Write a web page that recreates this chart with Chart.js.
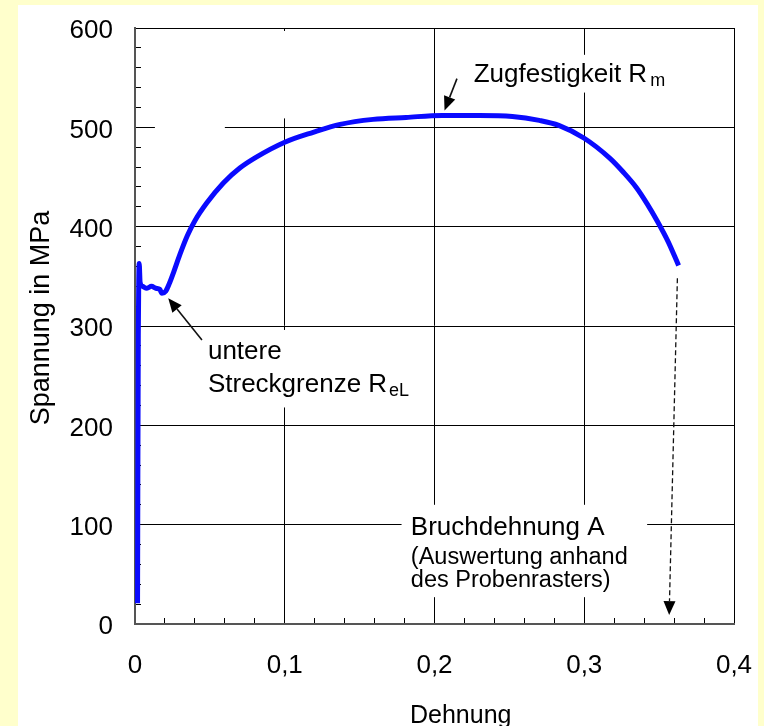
<!DOCTYPE html>
<html>
<head>
<meta charset="utf-8">
<script src="https://cdn.jsdelivr.net/npm/chart.js@4"></script>
<style>
  html, body { margin: 0; padding: 0; background: #FFFFCC; }
  canvas { display: block; }
</style>
</head>
<body>
<canvas id="myChart" width="764" height="726"></canvas>
<script>
// Dehnung (strain) und Spannung in MPa (stress)
var strain = [0.0017, 0.0019, 0.0022, 0.0025, 0.0028, 0.0034, 0.005, 0.008, 0.011, 0.014,
              0.0165, 0.018, 0.0205, 0.023, 0.026, 0.030, 0.035, 0.040, 0.048, 0.059,
              0.070, 0.081, 0.100, 0.119, 0.137, 0.159, 0.181, 0.205, 0.230, 0.252,
              0.270, 0.283, 0.300, 0.317, 0.326, 0.335, 0.342, 0.349, 0.356, 0.3630];
var stress = [21, 150, 290, 345, 363, 344, 340, 338, 340, 338,
              337, 333, 335, 343, 355, 372, 391, 406, 424, 444,
              459, 470, 485, 495, 503, 508, 510, 512, 512, 511,
              507, 502, 489, 469, 455, 439, 423, 405, 385, 361];

var xTicks = [0, 0.1, 0.2, 0.3, 0.4];
var yTicks = [0, 100, 200, 300, 400, 500, 600];

var FONT = '"Liberation Sans", Arial, sans-serif';

// white boxes behind the labels (in data units: x0, x1, y0, y1)
var masks = [
  [0.2233, 0.358, 535, 573],
  [0.0467, 0.1933, 218, 296],
  [0.178, 0.342, 27, 120],
  [0.0133, 0.06, 494, 506],
  [0.098, 0.102, 509, 597]
];

function isMajorX(v) { return Math.abs(v * 10 - Math.round(v * 10)) < 1e-6; }
function isMajorY(v) { return Math.abs(v % 100) < 1e-6; }

function arrow(ctx, x1, y1, x2, y2, dashed) {
  var ang = Math.atan2(y2 - y1, x2 - x1);
  var hl = 14, hw = 6;
  var bx = x2 - hl * Math.cos(ang), by = y2 - hl * Math.sin(ang);
  ctx.save();
  ctx.strokeStyle = '#111';
  ctx.fillStyle = '#000';
  ctx.lineWidth = dashed ? 1.3 : 1.6;
  if (dashed) ctx.setLineDash([5, 3]);
  ctx.beginPath();
  ctx.moveTo(x1, y1);
  ctx.lineTo(bx, by);
  ctx.stroke();
  ctx.setLineDash([]);
  ctx.beginPath();
  ctx.moveTo(x2, y2);
  ctx.lineTo(bx + hw * Math.sin(ang), by - hw * Math.cos(ang));
  ctx.lineTo(bx - hw * Math.sin(ang), by + hw * Math.cos(ang));
  ctx.closePath();
  ctx.fill();
  ctx.restore();
}

function subText(ctx, x, y, main, sub, size, gap) {
  ctx.font = size + 'px ' + FONT;
  ctx.fillText(main, x, y);
  var w = ctx.measureText(main).width;
  ctx.font = '18px ' + FONT;
  ctx.fillText(sub, x + w + gap, y + 4);
}

var panelPlugin = {
  id: 'panel',
  beforeDraw: function (chart) {
    var ctx = chart.ctx;
    ctx.save();
    ctx.fillStyle = '#FFFFCC';
    ctx.fillRect(0, 0, chart.width, chart.height);
    ctx.fillStyle = '#FFFFFF';
    ctx.fillRect(18, 5, 740, chart.height - 5);
    ctx.restore();
  },
  beforeDatasetsDraw: function (chart) {
    var ctx = chart.ctx, sx = chart.scales.x, sy = chart.scales.y;
    ctx.save();
    ctx.fillStyle = '#FFFFFF';
    masks.forEach(function (m) {
      var x0 = sx.getPixelForValue(m[0]), x1 = sx.getPixelForValue(m[1]);
      var y0 = sy.getPixelForValue(m[3]), y1 = sy.getPixelForValue(m[2]);
      ctx.fillRect(x0, y0, x1 - x0, y1 - y0);
    });

    ctx.fillStyle = '#000';
    ctx.textAlign = 'left';
    ctx.textBaseline = 'alphabetic';
    subText(ctx, sx.getPixelForValue(0.2262), sy.getPixelForValue(545.5), 'Zugfestigkeit R', 'm', 26, 3);
    ctx.font = '26px ' + FONT;
    ctx.fillText('untere', sx.getPixelForValue(0.0487), sy.getPixelForValue(267));
    subText(ctx, sx.getPixelForValue(0.0487), sy.getPixelForValue(233.5), 'Streckgrenze R', 'eL', 26, 2);
    ctx.font = '26px ' + FONT;
    ctx.fillText('Bruchdehnung A', sx.getPixelForValue(0.1842), sy.getPixelForValue(89.5));
    ctx.font = '23.5px ' + FONT;
    ctx.fillText('(Auswertung anhand', sx.getPixelForValue(0.1842), sy.getPixelForValue(60.5));
    ctx.fillText('des Probenrasters)', sx.getPixelForValue(0.1842), sy.getPixelForValue(37.3));
    ctx.restore();
  },
  afterDatasetsDraw: function (chart) {
    var ctx = chart.ctx, sx = chart.scales.x, sy = chart.scales.y;
    arrow(ctx, sx.getPixelForValue(0.215), sy.getPixelForValue(549),
               sx.getPixelForValue(0.2067), sy.getPixelForValue(517), false);
    arrow(ctx, sx.getPixelForValue(0.0447), sy.getPixelForValue(286),
               sx.getPixelForValue(0.0222), sy.getPixelForValue(328), false);
    arrow(ctx, sx.getPixelForValue(0.3622), sy.getPixelForValue(348),
               sx.getPixelForValue(0.3567), sy.getPixelForValue(9), true);
  },
  afterDraw: function (chart) {
    // axis titles
    var ctx = chart.ctx;
    ctx.save();
    ctx.fillStyle = '#000';
    ctx.textBaseline = 'alphabetic';
    ctx.textAlign = 'left';
    ctx.font = '25px ' + FONT;
    ctx.fillText('Dehnung', 410, 723);
    ctx.translate(49, 318);
    ctx.rotate(-Math.PI / 2);
    ctx.textAlign = 'center';
    ctx.font = '27px ' + FONT;
    ctx.fillText('Spannung in MPa', 0, 0);
    ctx.restore();
  }
};

var points = strain.map(function (e, i) { return { x: e, y: stress[i] }; });

new Chart("myChart", {
  type: "scatter",
  data: {
    datasets: [{
      data: points,
      showLine: true,
      borderColor: "#0A0AFF",
      borderWidth: 5,
      pointRadius: 0,
      cubicInterpolationMode: 'monotone',
      clip: 6,
      fill: false
    }]
  },
  options: {
    responsive: false,
    animation: false,
    layout: { padding: { left: 0, right: 30, top: 28, bottom: 0 } },
    plugins: {
      legend: { display: false },
      tooltip: { enabled: false }
    },
    scales: {
      x: {
        type: 'linear',
        min: 0,
        max: 0.4,
        afterFit: function (s) {
          s.height = 102;
          s.paddingLeft = 0;
          s.paddingRight = 0;
        },
        ticks: {
          stepSize: 0.02,
          maxTicksLimit: 40,
          autoSkip: false,
          maxRotation: 0,
          padding: 32,
          color: '#000',
          font: { family: FONT, size: 26 },
          callback: function (v) {
            if (!isMajorX(v)) return '';
            return String(Math.round(v * 10) / 10).replace('.', ',');
          }
        },
        grid: {
          color: function (c) { return c.tick && isMajorX(c.tick.value) ? '#000' : 'rgba(0,0,0,0)'; },
          lineWidth: 1,
          tickColor: '#000',
          tickLength: -6,
          tickWidth: 1
        },
        border: { display: true, color: '#555', width: 2 },
        title: { display: false }
      },
      y: {
        type: 'linear',
        min: 0,
        max: 600,
        afterFit: function (s) {
          s.width = 135;
          s.paddingTop = 0;
          s.paddingBottom = 0;
        },
        ticks: {
          stepSize: 20,
          maxTicksLimit: 40,
          autoSkip: false,
          padding: 28,
          labelOffset: 3,
          color: '#000',
          font: { family: FONT, size: 26 },
          callback: function (v) { return isMajorY(v) ? String(v) : ''; }
        },
        grid: {
          color: function (c) { return c.tick && isMajorY(c.tick.value) ? '#000' : 'rgba(0,0,0,0)'; },
          lineWidth: 1,
          tickColor: '#000',
          tickLength: -6,
          tickWidth: 1
        },
        border: { display: true, color: '#555', width: 2 },
        title: { display: false }
      }
    }
  },
  plugins: [panelPlugin]
});
</script>
</body>
</html>
